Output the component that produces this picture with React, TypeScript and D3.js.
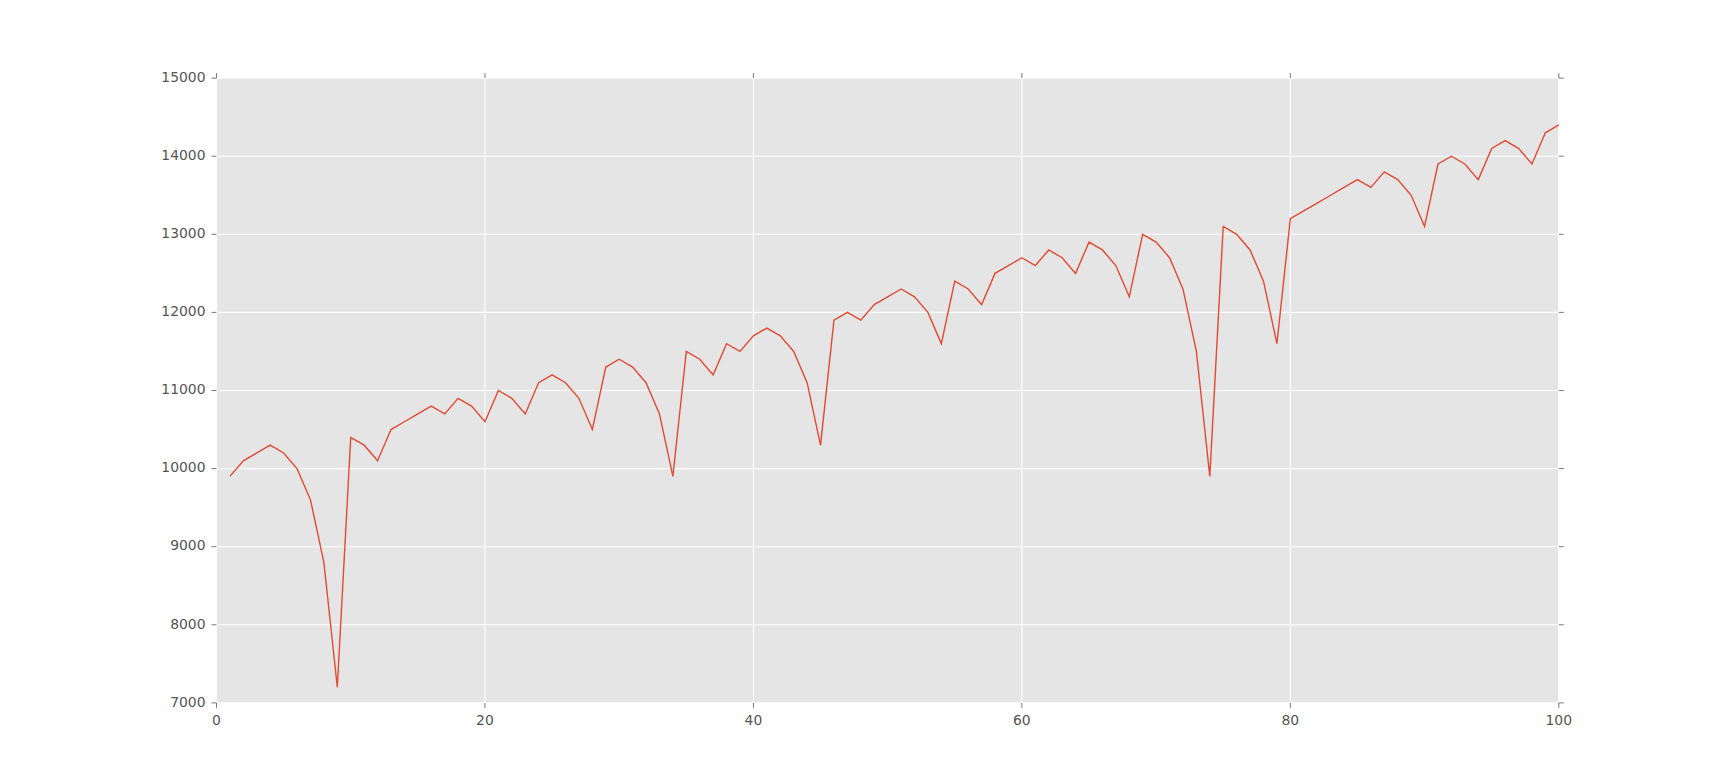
import { useRef, useEffect } from 'react';
import * as d3 from 'd3';

// monthly values (x = 1..100)
const seriesValues = [
  9900, 10100, 10200, 10300, 10200, 10000, 9600, 8800, 7200, 10400,
  10300, 10100, 10500, 10600, 10700, 10800, 10700, 10900, 10800, 10600,
  11000, 10900, 10700, 11100, 11200, 11100, 10900, 10500, 11300, 11400,
  11300, 11100, 10700, 9900, 11500, 11400, 11200, 11600, 11500, 11700,
  11800, 11700, 11500, 11100, 10300, 11900, 12000, 11900, 12100, 12200,
  12300, 12200, 12000, 11600, 12400, 12300, 12100, 12500, 12600, 12700,
  12600, 12800, 12700, 12500, 12900, 12800, 12600, 12200, 13000, 12900,
  12700, 12300, 11500, 9900, 13100, 13000, 12800, 12400, 11600, 13200,
  13300, 13400, 13500, 13600, 13700, 13600, 13800, 13700, 13500, 13100,
  13900, 14000, 13900, 13700, 14100, 14200, 14100, 13900, 14300, 14400,
];
const xTicks = [0, 20, 40, 60, 80, 100];
const yTicks = [7000, 8000, 9000, 10000, 11000, 12000, 13000, 14000, 15000];

const WIDTH = 1732;
const HEIGHT = 781;

export default function App() {
  const svgRef = useRef<SVGSVGElement>(null);

  useEffect(() => {
    if (!svgRef.current) return;
    const svg = d3.select(svgRef.current);
    svg.selectAll('*').remove();

    const margin = { top: 78.1, right: 173.2, bottom: 78.1, left: 216.5 };
    const innerW = WIDTH - margin.left - margin.right;
    const innerH = HEIGHT - margin.top - margin.bottom;

    const x = d3.scaleLinear().domain([0, 100]).range([0, innerW]);
    const y = d3.scaleLinear().domain([7000, 15000]).range([innerH, 0]);

    const g = svg.append('g').attr('transform', 'translate(' + margin.left + ',' + margin.top + ')');

    // panel background
    g.append('rect')
      .attr('width', innerW)
      .attr('height', innerH)
      .attr('fill', '#e5e5e5');

    // gridlines
    g.selectAll('line.ygrid')
      .data(yTicks)
      .join('line')
      .attr('class', 'ygrid')
      .attr('x1', 0)
      .attr('x2', innerW)
      .attr('y1', (d) => y(d))
      .attr('y2', (d) => y(d))
      .attr('stroke', '#ffffff')
      .attr('stroke-width', 1.1);

    g.selectAll('line.xgrid')
      .data(xTicks)
      .join('line')
      .attr('class', 'xgrid')
      .attr('y1', 0)
      .attr('y2', innerH)
      .attr('x1', (d) => x(d))
      .attr('x2', (d) => x(d))
      .attr('stroke', '#ffffff')
      .attr('stroke-width', 1.1);

    // the series
    const line = d3.line<number>()
      .x((_d, i) => x(i + 1))
      .y((d) => y(d));

    g.append('path')
      .datum(seriesValues)
      .attr('d', line)
      .attr('fill', 'none')
      .attr('stroke', '#e24a33')
      .attr('stroke-width', 1.4)
      .attr('stroke-linejoin', 'miter');

    // outward ticks on all four sides
    const tickLen = 5;
    const tickColor = '#555555';

    g.selectAll('line.ytickL')
      .data(yTicks)
      .join('line')
      .attr('x1', -tickLen)
      .attr('x2', 0)
      .attr('y1', (d) => y(d))
      .attr('y2', (d) => y(d))
      .attr('stroke', tickColor)
      .attr('stroke-width', 0.8);

    g.selectAll('line.ytickR')
      .data(yTicks)
      .join('line')
      .attr('x1', innerW)
      .attr('x2', innerW + tickLen)
      .attr('y1', (d) => y(d))
      .attr('y2', (d) => y(d))
      .attr('stroke', tickColor)
      .attr('stroke-width', 0.8);

    g.selectAll('line.xtickB')
      .data(xTicks)
      .join('line')
      .attr('x1', (d) => x(d))
      .attr('x2', (d) => x(d))
      .attr('y1', innerH)
      .attr('y2', innerH + tickLen)
      .attr('stroke', tickColor)
      .attr('stroke-width', 0.8);

    g.selectAll('line.xtickT')
      .data(xTicks)
      .join('line')
      .attr('x1', (d) => x(d))
      .attr('x2', (d) => x(d))
      .attr('y1', -tickLen)
      .attr('y2', 0)
      .attr('stroke', tickColor)
      .attr('stroke-width', 0.8);

    // tick labels
    g.selectAll('text.ylabel')
      .data(yTicks)
      .join('text')
      .attr('x', -11)
      .attr('y', (d) => y(d) + 3.8)
      .attr('text-anchor', 'end')
      .attr('font-family', '"DejaVu Sans", sans-serif')
      .attr('font-size', '13.9px')
      .attr('fill', tickColor)
      .text((d) => String(d));

    g.selectAll('text.xlabel')
      .data(xTicks)
      .join('text')
      .attr('x', (d) => x(d))
      .attr('y', innerH + 22.6)
      .attr('text-anchor', 'middle')
      .attr('font-family', '"DejaVu Sans", sans-serif')
      .attr('font-size', '13.9px')
      .attr('fill', tickColor)
      .text((d) => String(d));
  }, []);

  return (
    <svg
      ref={svgRef}
      width={WIDTH}
      height={HEIGHT}
      viewBox={'0 0 ' + WIDTH + ' ' + HEIGHT}
      style={{ position: 'absolute', left: 0, top: 0, background: '#ffffff' }}
    />
  );
}
